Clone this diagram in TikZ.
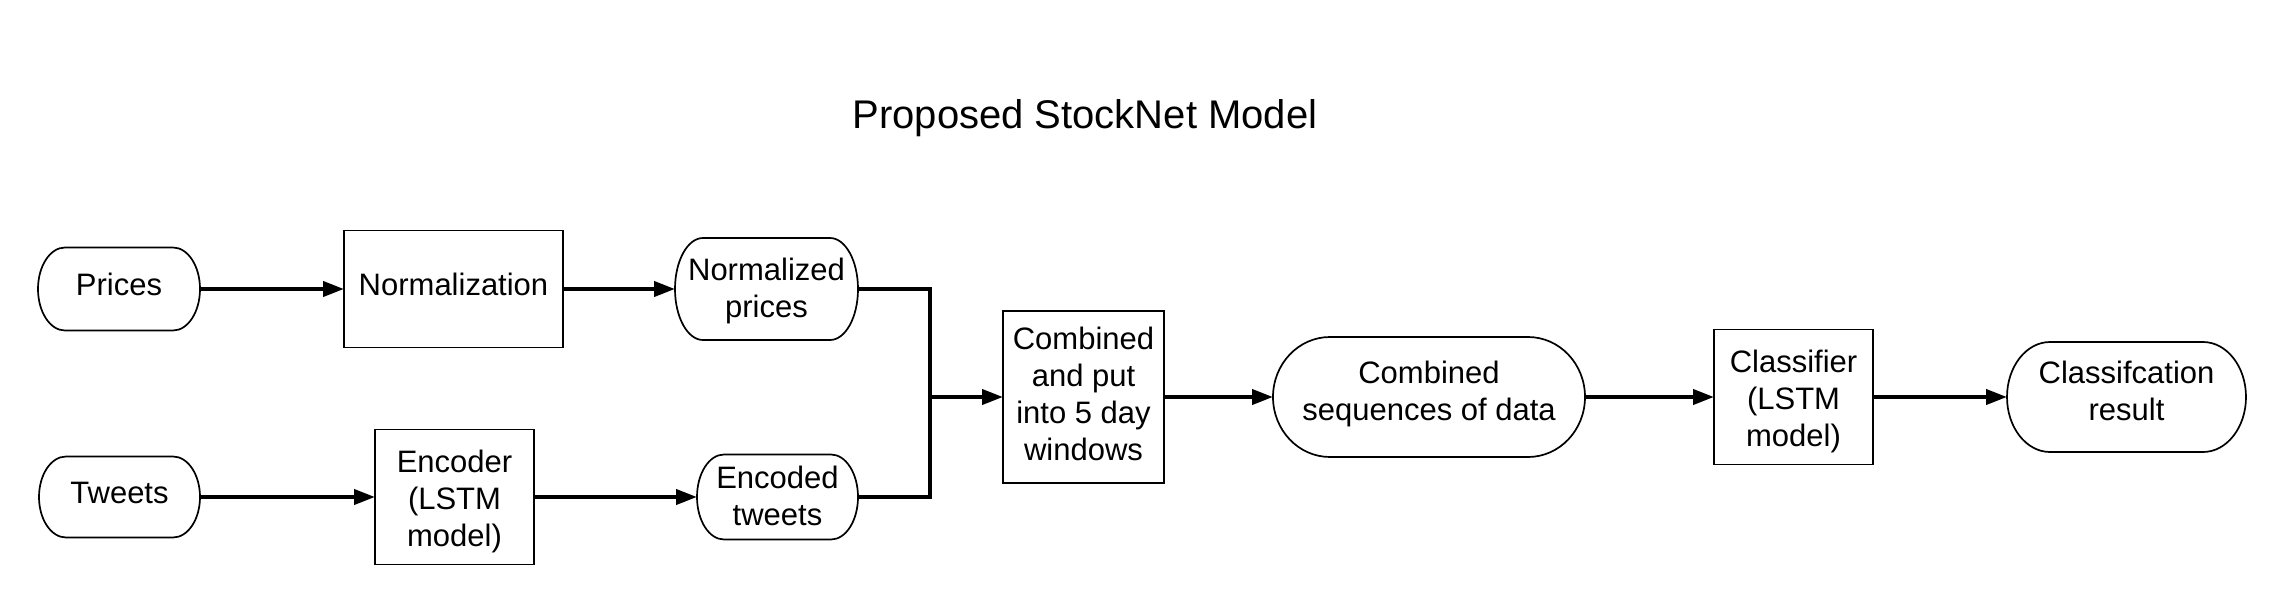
\documentclass[tikz,border=0pt]{standalone}
\usepackage{fontspec}
\setmainfont{Liberation Sans}
\usetikzlibrary{arrows.meta,calc}
\newcommand\lnstrut{\rule[-6.3pt]{0pt}{19.5pt}}
\newcommand\lowerstrut{\rule{0pt}{18.4pt}}
\newcommand\midstrut{\rule{0pt}{16.2pt}}
\newcommand\slightstrut{\rule{0pt}{14.7pt}}
\newcommand\termoutline[3]{%
  \draw[borderline] ([xshift=#2]#1.north west) -- ([xshift=-#2]#1.north east)
    arc[start angle=90,end angle=-90,x radius=#2,y radius=#3]
    -- ([xshift=#2]#1.south west)
    arc[start angle=270,end angle=90,x radius=#2,y radius=#3] -- cycle;}
\begin{document}
\begin{tikzpicture}[x=0.5pt,y=-0.5pt,
  every node/.style={font=\fontsize{15.5pt}{18.5pt}\selectfont, align=center, inner sep=0pt, outer sep=0pt},
  borderline/.style={line width=0.85pt},
  strutted/.style={execute at begin node=\lnstrut, execute at end node=\lnstrut},
  procbox/.style 2 args={strutted, draw, borderline, minimum width=#1, minimum height=#2},
  termbox/.style 2 args={strutted, minimum width=#1, minimum height=#2},
  flow/.style={line width=2pt, line join=miter, -{Triangle[length=10.5pt,width=7.5pt]}},
  plainflow/.style={line width=2pt, line join=miter}
]
\useasboundingbox (0,0) rectangle (2287,605);

\node[anchor=base, font=\fontsize{20pt}{24pt}\selectfont] (title) at (1085,128) {Proposed StockNet Model};

% top row
\node[termbox={81pt}{41.5pt}] (pr) at (119,289) {Prices};
\node[procbox={109.5pt}{58.5pt}] (nm) at (453.5,289) {Normalization};
\node[termbox={91.5pt}{51pt}] (np) at (766.5,289) {\midstrut Normalized\\prices};

% bottom row
\node[termbox={80.5pt}{40.5pt}] (tw) at (119.5,497) {Tweets};
\node[procbox={79.5pt}{67.5pt}] (en) at (454.5,497) {\lowerstrut Encoder\\(LSTM\\model)};
\node[termbox={80.5pt}{42.5pt}] (et) at (777.5,497) {\midstrut Encoded\\tweets};

% middle row
\node[procbox={80.5pt}{86pt}] (cb) at (1083.5,397) {\slightstrut Combined\\and put\\into 5 day\\windows};
\node[termbox={156pt}{60pt}] (cs) at (1429,397) {Combined\\sequences of data};
\node[procbox={79.5pt}{67.5pt}] (cl) at (1793.5,397) {\lowerstrut Classifier\\(LSTM\\model)};
\node[termbox={119.5pt}{55pt}] (rs) at (2126.5,397) {Classifcation\\result};

\termoutline{pr}{13.5pt}{20.75pt}
\termoutline{np}{14pt}{25.5pt}
\termoutline{tw}{13.5pt}{20.25pt}
\termoutline{et}{13.5pt}{21.25pt}
\termoutline{cs}{28.5pt}{30pt}
\termoutline{rs}{21.5pt}{27.5pt}

\coordinate (j) at (930,397);

\draw[flow] (pr) -- (nm);
\draw[flow] (nm) -- (np);
\draw[flow] (tw) -- (en);
\draw[flow] (en) -- (et);
\draw[plainflow] (np.east) -| (j) |- (et.east);
\draw[flow] (j) -- (cb);
\draw[flow] (cb) -- (cs);
\draw[flow] (cs) -- (cl);
\draw[flow] (cl) -- (rs);
\end{tikzpicture}
\end{document}
